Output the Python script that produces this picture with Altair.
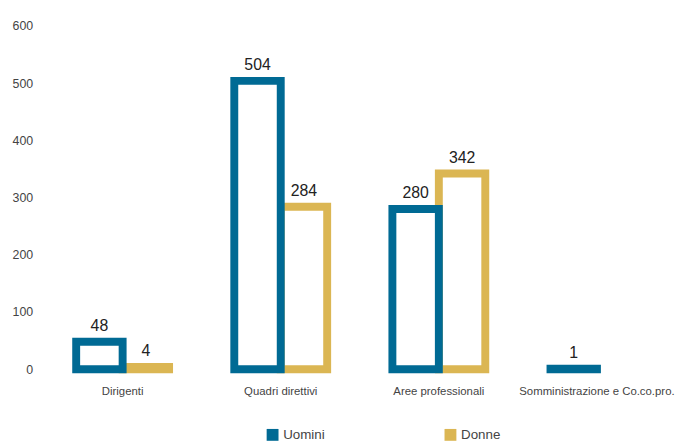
import altair as alt
import pandas as pd

categories = ["Dirigenti", "Quadri direttivi", "Aree professionali", "Somministrazione e Co.co.pro."]
uomini = [48, 504, 280, 1]
donne = [4, 284, 342, None]
series = ["Uomini", "Donne"]
colors = ["#006a94", "#dbb653"]
y_ticks = [0, 100, 200, 300, 400, 500, 600]

FONT = "Liberation Sans, Arial, sans-serif"

rows = []
for c, v in zip(categories, donne):
    if v is not None:
        rows.append({"categoria": c, "genere": "Donne", "valore": v})
for c, v in zip(categories, uomini):
    if v is not None:
        rows.append({"categoria": c, "genere": "Uomini", "valore": v})
df = pd.DataFrame(rows)

x = alt.X(
    "categoria:N",
    sort=categories,
    scale=alt.Scale(paddingInner=0.4125, paddingOuter=0.15),
    axis=alt.Axis(title=None, labelAngle=0, domain=False, ticks=False, labelPadding=17,
                  labelFontSize=11.5, labelColor="#444444", labelFont=FONT, labelLimit=400),
)
xo = alt.XOffset("genere:N", sort=series, scale=alt.Scale(paddingInner=0, paddingOuter=0))
y = alt.Y(
    "valore:Q",
    scale=alt.Scale(domain=[0, 600]),
    axis=alt.Axis(title=None, values=y_ticks, grid=False, domain=False, ticks=False,
                  labelPadding=20, labelFontSize=12.5, labelColor="#444444", labelFont=FONT),
)
stroke = alt.Stroke(
    "genere:N",
    scale=alt.Scale(domain=series, range=colors),
    legend=alt.Legend(title=None, orient="none", legendX=216, legendY=407,
                      direction="horizontal", symbolType="square", symbolSize=16,
                      symbolStrokeWidth=8, labelFontSize=13.5, labelFont=FONT,
                      labelColor="#444444", columnPadding=108, labelOffset=4),
)

bars = alt.Chart(df).mark_bar(fill="white", strokeWidth=8).encode(
    x=x, xOffset=xo, y=y, stroke=stroke
)
labels = alt.Chart(df).mark_text(
    baseline="alphabetic", dy=-11, fontSize=16, font=FONT, color="#222222"
).encode(x=x, xOffset=xo, y=y, text="valore:Q")

chart = alt.layer(bars, labels).properties(
    width=622,
    height=347.5,
    autosize=alt.AutoSizeParams(type="none"),
    padding={"left": 45, "top": 15.5, "right": 9, "bottom": 72},
).configure_view(stroke=None)

chart.save("out.html", embed_options={"renderer": "svg", "actions": False})
